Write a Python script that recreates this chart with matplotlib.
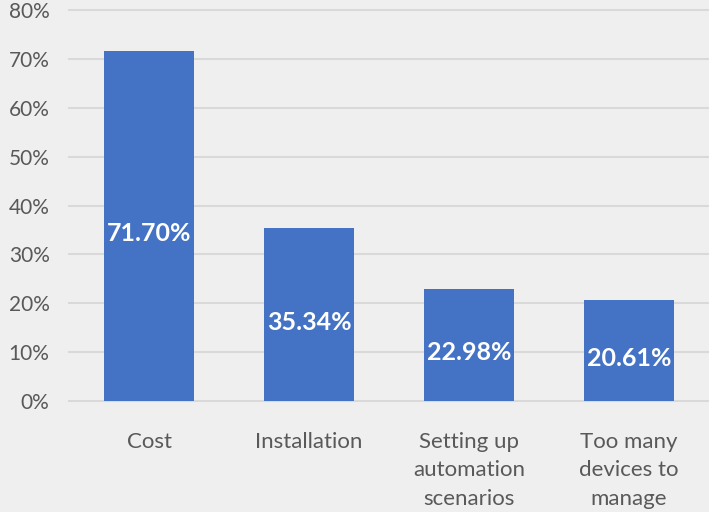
import matplotlib
matplotlib.use("Agg")
import matplotlib.pyplot as plt
from matplotlib.ticker import FuncFormatter

categories = ["Cost", "Installation", "Setting up\nautomation\nscenarios", "Too many\ndevices to\nmanage"]
values = [71.70, 35.34, 22.98, 20.61]
yticks = [0, 10, 20, 30, 40, 50, 60, 70, 80]

plt.rcParams['font.family'] = ['Lato', 'DejaVu Sans']

fig = plt.figure(figsize=(7.09, 5.12), dpi=100)
bg = "#efefef"
fig.patch.set_facecolor(bg)
ax = fig.add_axes([69/709, (512-401)/512, 1 - 69/709, (401-10)/512])
ax.set_facecolor(bg)

x = list(range(len(categories)))
bars = ax.bar(x, values, width=0.565, color="#4472C4", zorder=3)
for xi, v in zip(x, values):
    ax.text(xi, v/2 - 1.6, f"{v:.2f}%", ha="center", va="center",
            color="white", fontsize=18, fontweight="bold", zorder=4)

ax.set_xlim(-0.5, 3.5)
ax.set_ylim(0, 80)
ax.set_yticks(yticks)
ax.yaxis.set_major_formatter(FuncFormatter(lambda v, p: f"{int(v)}%"))
ax.set_xticks(x)
ax.set_xticklabels(categories, linespacing=1.55)
ax.tick_params(axis='both', length=0, colors="#595959")
ax.tick_params(axis='x', pad=22, labelsize=16)
ax.tick_params(axis='y', pad=14, labelsize=15)
ax.grid(axis='y', color="#d9d9d9", linewidth=1.5, zorder=0)
for s in ax.spines.values():
    s.set_visible(False)
for gl in ax.get_ygridlines():
    gl.set_clip_on(False)

fig.savefig("out.png", dpi=100, facecolor=bg)
